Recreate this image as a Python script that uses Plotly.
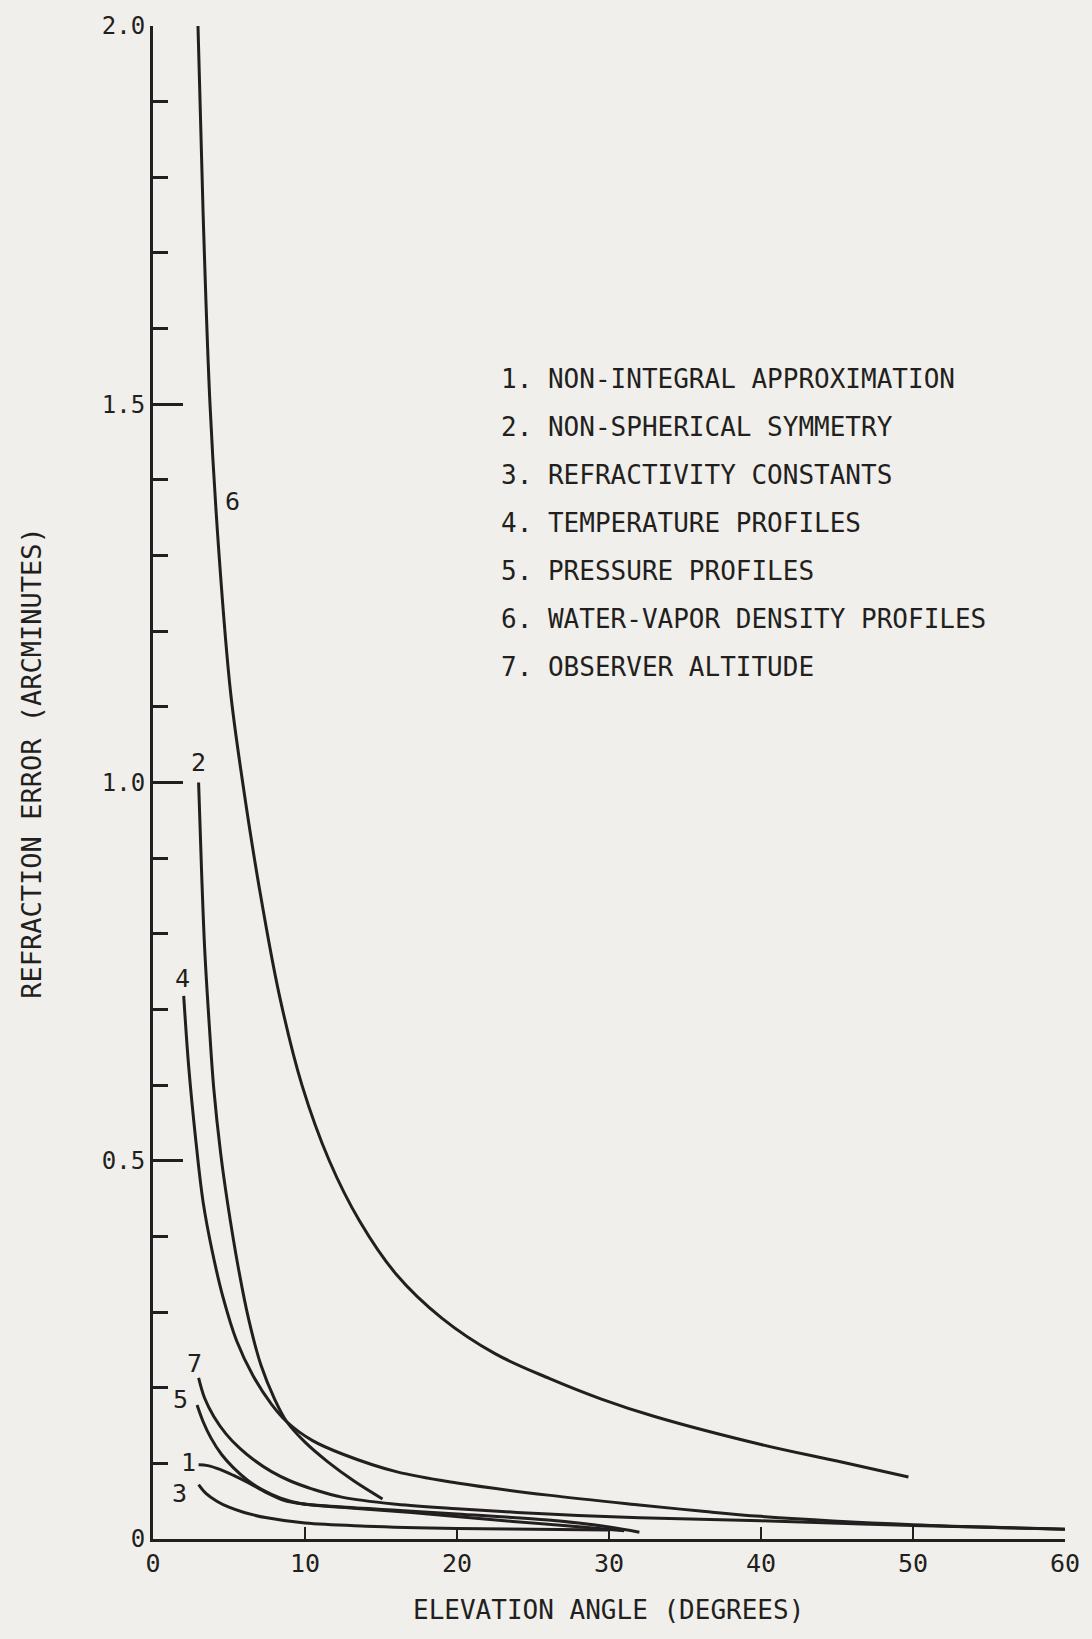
import plotly.graph_objects as go

# ---- data ----
x1 = [3.0, 3.6, 4.4, 5.3, 6.3, 7.4, 8.6, 10.0, 13.0, 17.0, 22.0, 27.0, 31.0]
y1 = [0.098, 0.097, 0.092, 0.084, 0.074, 0.062, 0.051, 0.046, 0.041, 0.035, 0.026, 0.018, 0.011]

x2 = [3.0, 3.2, 3.4, 3.7, 4.0, 4.45, 4.9, 5.6, 6.3, 7.1, 8.0, 8.8, 10.0, 11.5, 13.2, 15.1]
y2 = [1.0, 0.88, 0.78, 0.68, 0.595, 0.51, 0.445, 0.36, 0.29, 0.23, 0.185, 0.155, 0.128, 0.102, 0.077, 0.053]

x3 = [3.0, 3.5, 4.2, 5.0, 6.0, 7.5, 10.0, 14.0, 20.0, 25.0, 30.0]
y3 = [0.072, 0.060, 0.050, 0.042, 0.035, 0.028, 0.021, 0.017, 0.014, 0.013, 0.012]

x4 = [2.02, 2.35, 2.8, 3.3, 3.9, 4.6, 5.5, 6.6, 7.8, 8.8, 10.5, 12.5, 16.0, 20.0, 26.0, 32.0, 36.0, 40.0, 50.0, 60.0]
y4 = [0.718, 0.624, 0.53, 0.445, 0.38, 0.32, 0.262, 0.215, 0.178, 0.155, 0.13, 0.112, 0.089, 0.074, 0.058, 0.045, 0.037, 0.030, 0.019, 0.013]

x5 = [2.9, 3.3, 3.8, 4.5, 5.3, 6.2, 7.2, 8.4, 9.7, 12.0, 16.0, 20.0, 26.0, 30.0, 32.0]
y5 = [0.177, 0.155, 0.134, 0.112, 0.094, 0.078, 0.065, 0.054, 0.047, 0.043, 0.038, 0.033, 0.025, 0.016, 0.009]

x6 = [2.96, 3.3, 3.75, 4.35, 5.1, 5.9, 7.0, 8.3, 9.8, 11.6, 13.6, 16.0, 19.0, 22.5, 26.1, 29.5, 33.0,
      40.0, 45.0, 49.7]
y6 = [2.0, 1.75, 1.5, 1.3, 1.12, 1.0, 0.86, 0.72, 0.60, 0.50, 0.42, 0.35, 0.292, 0.245, 0.212, 0.185, 0.162,
      0.125, 0.103, 0.082]

x7 = [3.0, 3.4, 4.0, 4.8, 5.7, 6.6, 7.8, 9.0, 10.5, 12.5, 16.0, 20.0, 26.0, 32.0, 40.0, 50.0, 60.0]
y7 = [0.213, 0.186, 0.162, 0.139, 0.12, 0.105, 0.089, 0.077, 0.066, 0.055, 0.046, 0.040, 0.033, 0.028, 0.024, 0.018, 0.013]

curves = [(x1, y1), (x2, y2), (x3, y3), (x4, y4), (x5, y5), (x6, y6), (x7, y7)]

legend_items = [
    "1. NON-INTEGRAL APPROXIMATION",
    "2. NON-SPHERICAL SYMMETRY",
    "3. REFRACTIVITY CONSTANTS",
    "4. TEMPERATURE PROFILES",
    "5. PRESSURE PROFILES",
    "6. WATER-VAPOR DENSITY PROFILES",
    "7. OBSERVER ALTITUDE",
]

curve_labels = ["1", "2", "3", "4", "5", "6", "7"]
label_x = [2.33, 3.02, 1.72, 1.93, 1.8, 5.2, 2.75]
label_y = [0.101, 1.027, 0.060, 0.741, 0.185, 1.371, 0.232]

x_tickvals = [0, 10, 20, 30, 40, 50, 60]
x_ticktext = ["0", "10", "20", "30", "40", "50", "60"]
y_tickvals = [0, 0.5, 1.0, 1.5, 2.0]
y_ticktext = ["0", "0.5", "1.0", "1.5", "2.0"]

INK = "#231f20"
BG = "#f0efeb"
FONT = "DejaVu Sans Mono"

fig = go.Figure()
for xs, ys in curves:
    fig.add_trace(go.Scatter(x=xs, y=ys, mode="lines",
                             line=dict(color=INK, width=3, shape="spline", smoothing=1.0),
                             showlegend=False, hoverinfo="skip"))

annotations = []
for t, lx, ly in zip(curve_labels, label_x, label_y):
    annotations.append(dict(x=lx, y=ly, xref="x", yref="y", text=t, showarrow=False,
                            font=dict(family=FONT, size=25, color=INK)))

L, R, T, B = 152.5, 24.5, 24, 99.5
PW = 1092 - L - R
PH = 1639 - T - B
row_y = [377.2, 425.3, 473.4, 521.5, 569.5, 617.6, 665.7]
for txt, ry in zip(legend_items, row_y):
    annotations.append(dict(x=(499.5 - L) / PW, y=(1639 - B - ry) / PH, xref="paper", yref="paper",
                            xanchor="left", yanchor="middle", text=txt, showarrow=False,
                            font=dict(family=FONT, size=26, color=INK)))

annotations.append(dict(x=(31 - L) / PW, y=(1639 - B - 762) / PH, xref="paper", yref="paper",
                        text="REFRACTION ERROR (ARCMINUTES)", textangle=-90, showarrow=False,
                        xanchor="center", yanchor="middle",
                        font=dict(family=FONT, size=27, color=INK)))
annotations.append(dict(x=(609 - L) / PW, y=(1639 - B - 1611) / PH, xref="paper", yref="paper",
                        text="ELEVATION ANGLE (DEGREES)", showarrow=False,
                        xanchor="center", yanchor="middle",
                        font=dict(family=FONT, size=26, color=INK)))

fig.update_layout(
    width=1092, height=1639,
    margin=dict(l=L, r=R, t=T, b=B),
    paper_bgcolor=BG, plot_bgcolor=BG,
    annotations=annotations,
    xaxis=dict(range=[0, 60], showgrid=False, zeroline=False, showline=True,
               linecolor=INK, linewidth=3, ticks="inside", ticklen=12, tickwidth=2,
               tickcolor=INK, tickvals=x_tickvals, ticktext=x_ticktext,
               tickfont=dict(family=FONT, size=25, color=INK)),
    yaxis=dict(range=[0, 2.0], showgrid=False, zeroline=False, showline=True,
               linecolor=INK, linewidth=3, ticks="inside", ticklen=30, tickwidth=3,
               tickcolor=INK, tickvals=y_tickvals, ticktext=y_ticktext,
               tickfont=dict(family=FONT, size=24, color=INK),
               minor=dict(dtick=0.1, tick0=0, ticks="inside", ticklen=15, tickwidth=3,
                          tickcolor=INK, showgrid=False)),
)

fig.write_html("out.html")
